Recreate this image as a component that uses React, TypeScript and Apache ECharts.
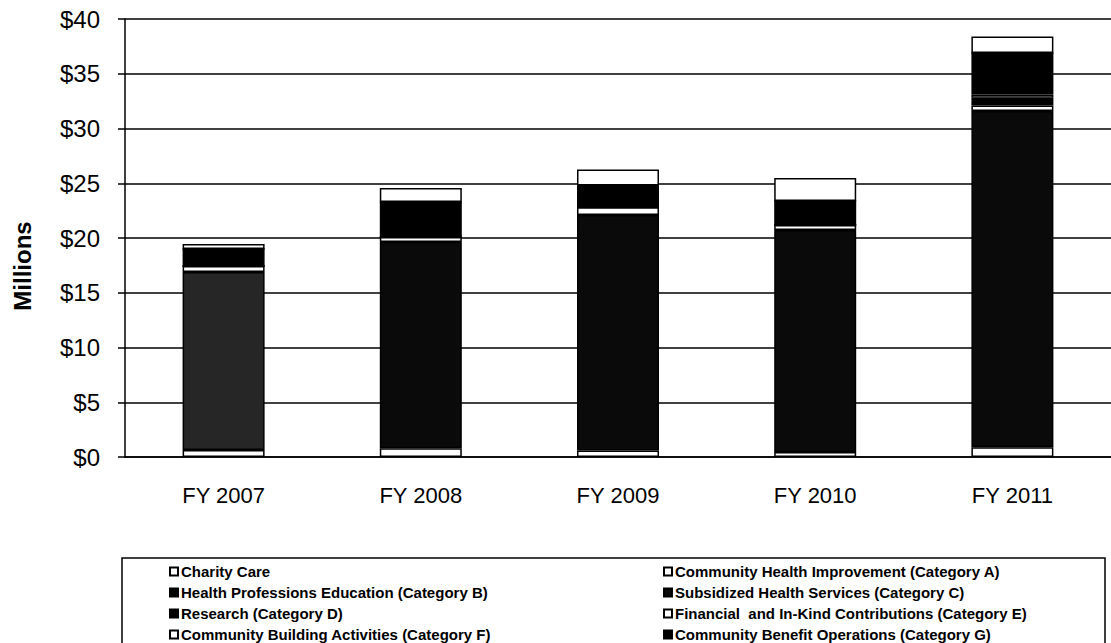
import React, { useEffect, useRef } from "react";
import * as echarts from "echarts";

const categories = ["FY 2007", "FY 2008", "FY 2009", "FY 2010", "FY 2011"];

// Stack order bottom -> top
const charityCare = [0.64, 0.8, 0.6, 0.45, 0.9];
const subsidizedC = [16.26, 18.83, 21.5, 20.28, 30.7];
const financialE = [0.55, 0.46, 0.7, 0.46, 0.5];
const researchD = [0, 0, 0, 0, 0.7];
const communityBuildingF = [0, 0, 0, 0, 0.3];
const healthProfB = [1.55, 3.2, 2.0, 2.19, 3.8];
const communityBenefitG = [0, 0, 0, 0, 0];
const communityHealthA = [0.45, 1.28, 1.46, 2.1, 1.5];

const yTicks = { min: 0, max: 40, interval: 5 };

const legendLeft = [
  "Charity Care",
  "Health Professions Education (Category B)",
  "Research (Category D)",
  "Community Building Activities (Category F)",
];
const legendRight = [
  "Community Health Improvement (Category A)",
  "Subsidized Health Services (Category C)",
  "Financial  and In-Kind Contributions (Category E)",
  "Community Benefit Operations (Category G)",
];

const FONT = "Liberation Sans, Arial, sans-serif";

export default function App() {
  const ref = useRef<HTMLDivElement>(null);
  useEffect(() => {
    if (!ref.current) return;
    const chart = echarts.init(ref.current, null, { renderer: "svg" });
    const mk = (name: string, data: any[], color: string) => ({
      name,
      type: "bar",
      stack: "total",
      data,
      barWidth: 82,
      itemStyle: { color, borderColor: "#000", borderWidth: 1.5 },
      emphasis: { disabled: true },
    });
    const subsData = subsidizedC.map((v, i) =>
      i === 0 ? { value: v, itemStyle: { color: "#262626" } } : v
    );
    const legendCommon = {
      orient: "vertical",
      top: 564,
      height: 120,
      width: 440,
      padding: 0,
      itemWidth: 8,
      itemHeight: 8,
      itemGap: 6,
      icon: "rect",
      textStyle: {
        color: "#000",
        fontSize: 15,
        fontWeight: "bold",
        fontFamily: FONT,
        lineHeight: 14,
        padding: [0, 0, 0, -2],
      },
      selectedMode: false,
    };
    chart.setOption({
      animation: false,
      backgroundColor: "#fff",
      textStyle: { fontFamily: FONT },
      grid: { left: 125, right: -6, top: 19, bottom: 186, containLabel: false },
      xAxis: {
        type: "category",
        data: categories,
        axisLine: { lineStyle: { color: "#000", width: 1.5 } },
        axisTick: { show: false },
        axisLabel: { color: "#000", fontSize: 22, margin: 27, fontFamily: FONT },
      },
      yAxis: {
        type: "value",
        min: yTicks.min,
        max: yTicks.max,
        interval: yTicks.interval,
        axisLine: { show: true, lineStyle: { color: "#000", width: 1.5 } },
        axisTick: { show: true, length: 7, lineStyle: { color: "#000", width: 1.5 } },
        axisLabel: {
          color: "#000",
          fontSize: 24,
          margin: 25,
          fontFamily: FONT,
          formatter: (v: number) => "$" + v,
        },
        splitLine: { lineStyle: { color: "#000", width: 1.5 } },
      },
      legend: [
        { ...legendCommon, data: legendLeft, left: 169 },
        { ...legendCommon, data: legendRight, left: 663 },
      ],
      graphic: [
        {
          type: "rect",
          shape: { x: 122, y: 558, width: 983, height: 100 },
          style: { fill: "none", stroke: "#000", lineWidth: 1.5 },
          z: -1,
        },
        {
          type: "text",
          x: 22,
          y: 266,
          rotation: Math.PI / 2,
          style: {
            text: "Millions",
            fill: "#000",
            font: "bold 24px " + FONT,
            align: "center",
            verticalAlign: "middle",
          },
        },
      ],
      series: [
        mk("Charity Care", charityCare, "#fff"),
        mk("Subsidized Health Services (Category C)", subsData, "#0a0a0a"),
        mk("Financial  and In-Kind Contributions (Category E)", financialE, "#fff"),
        mk("Research (Category D)", researchD, "#000"),
        mk("Community Building Activities (Category F)", communityBuildingF, "#fff"),
        mk("Health Professions Education (Category B)", healthProfB, "#000"),
        mk("Community Benefit Operations (Category G)", communityBenefitG, "#000"),
        mk("Community Health Improvement (Category A)", communityHealthA, "#fff"),
      ],
    });
    return () => chart.dispose();
  }, []);
  return (
    <div
      ref={ref}
      style={{ position: "fixed", left: 0, top: 0, width: 1111, height: 643, background: "#fff" }}
    />
  );
}
